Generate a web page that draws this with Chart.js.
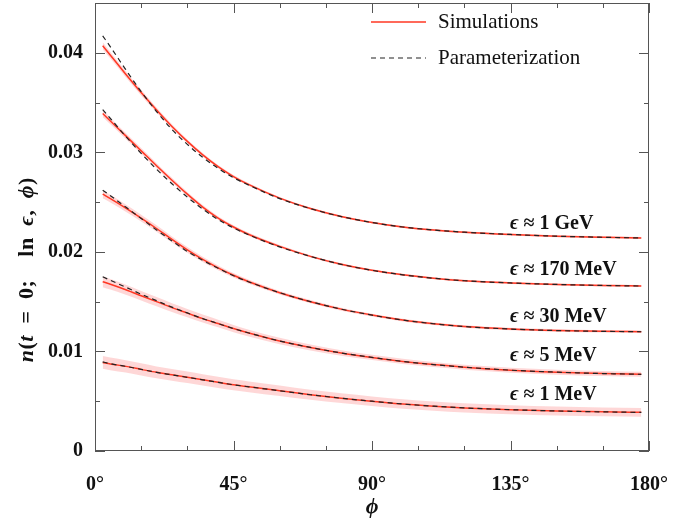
<!DOCTYPE html>
<html>
<head>
<meta charset="utf-8">
<script src="https://cdn.jsdelivr.net/npm/chart.js@4/dist/chart.umd.min.js"></script>
<style>
    body{margin:0;background:#fff;}
    #wrap{width:690px;height:525px;}
</style>
</head>
<body>
<div id="wrap"><canvas id="myChart" width="690" height="525"></canvas></div>
<script>
// angles (degrees) where the curves were read
const phi = [2.5, 5, 10, 15, 20, 25, 30, 35, 40, 45, 50, 60, 70, 80, 90, 100, 110, 120, 135, 150, 165, 177.5];

// simulations (x 1e-3)
const sim1GeV   = [40.7, 39.75, 37.85, 36.0, 34.25, 32.6, 31.1, 29.75, 28.57, 27.57, 26.75, 25.4, 24.35, 23.55, 22.95, 22.5, 22.2, 21.98, 21.75, 21.58, 21.47, 21.4];
const sim170MeV = [33.9, 33.15, 31.65, 30.15, 28.65, 27.2, 25.8, 24.5, 23.4, 22.5, 21.75, 20.55, 19.55, 18.75, 18.15, 17.7, 17.35, 17.1, 16.88, 16.73, 16.63, 16.57];
const sim30MeV  = [25.8, 25.35, 24.4, 23.4, 22.35, 21.25, 20.2, 19.25, 18.4, 17.65, 17.0, 15.9, 15.0, 14.25, 13.65, 13.15, 12.78, 12.5, 12.25, 12.1, 12.02, 11.98];
const sim5MeV   = [17.0, 16.75, 16.2, 15.6, 15.0, 14.4, 13.85, 13.3, 12.8, 12.3, 11.85, 11.05, 10.4, 9.85, 9.4, 9.0, 8.68, 8.42, 8.12, 7.92, 7.78, 7.7];
const sim1MeV   = [8.9, 8.75, 8.5, 8.2, 7.9, 7.65, 7.4, 7.15, 6.9, 6.65, 6.45, 6.05, 5.65, 5.3, 5.0, 4.72, 4.5, 4.33, 4.15, 4.02, 3.93, 3.88];

// simulation uncertainty (half width, x 1e-3)
const err1GeV   = [0.35, 0.33, 0.3, 0.28, 0.25, 0.22, 0.2, 0.18, 0.16, 0.15, 0.14, 0.12, 0.11, 0.1, 0.1, 0.1, 0.1, 0.1, 0.1, 0.1, 0.1, 0.1];
const err170MeV = [0.35, 0.33, 0.3, 0.28, 0.26, 0.24, 0.22, 0.2, 0.18, 0.17, 0.16, 0.14, 0.12, 0.11, 0.1, 0.1, 0.1, 0.1, 0.1, 0.1, 0.1, 0.1];
const err30MeV  = [0.4, 0.38, 0.36, 0.34, 0.32, 0.3, 0.28, 0.26, 0.24, 0.22, 0.2, 0.18, 0.16, 0.15, 0.14, 0.13, 0.13, 0.12, 0.12, 0.12, 0.12, 0.12];
const err5MeV   = [0.55, 0.53, 0.5, 0.48, 0.46, 0.44, 0.42, 0.4, 0.38, 0.36, 0.34, 0.32, 0.3, 0.28, 0.27, 0.26, 0.25, 0.25, 0.25, 0.25, 0.25, 0.25];
const err1MeV   = [0.65, 0.64, 0.62, 0.61, 0.6, 0.59, 0.58, 0.57, 0.56, 0.55, 0.54, 0.52, 0.5, 0.49, 0.48, 0.47, 0.46, 0.46, 0.45, 0.45, 0.45, 0.45];

// parameterization (x 1e-3)
const par1GeV   = [41.7, 40.6, 38.3, 36.1, 34.1, 32.3, 30.8, 29.5, 28.4, 27.45, 26.7, 25.35, 24.35, 23.55, 22.95, 22.5, 22.2, 21.98, 21.75, 21.58, 21.47, 21.4];
const par170MeV = [34.3, 33.4, 31.6, 29.9, 28.3, 26.85, 25.5, 24.3, 23.25, 22.4, 21.7, 20.5, 19.55, 18.75, 18.15, 17.7, 17.35, 17.1, 16.88, 16.73, 16.63, 16.57];
const par30MeV  = [26.2, 25.65, 24.5, 23.35, 22.2, 21.1, 20.05, 19.15, 18.35, 17.6, 16.98, 15.9, 15.0, 14.25, 13.65, 13.15, 12.78, 12.5, 12.25, 12.1, 12.02, 11.98];
const par5MeV   = [17.5, 17.15, 16.45, 15.75, 15.1, 14.45, 13.87, 13.3, 12.8, 12.3, 11.85, 11.05, 10.4, 9.85, 9.4, 9.0, 8.68, 8.42, 8.12, 7.92, 7.78, 7.7];
const par1MeV   = [8.95, 8.77, 8.5, 8.2, 7.9, 7.65, 7.4, 7.15, 6.9, 6.65, 6.45, 6.05, 5.65, 5.3, 5.0, 4.72, 4.5, 4.33, 4.15, 4.02, 3.93, 3.88];

const curveLabels = ["1 GeV", "170 MeV", "30 MeV", "5 MeV", "1 MeV"];
const labelY = [0.02286, 0.01815, 0.01343, 0.00952, 0.00561];
const labelPhi = 134.8;

const xTicks = [0, 45, 90, 135, 180];
const yTicks = [0, 0.01, 0.02, 0.03, 0.04];

const simList = [sim1GeV, sim170MeV, sim30MeV, sim5MeV, sim1MeV];
const errList = [err1GeV, err170MeV, err30MeV, err5MeV, err1MeV];
const parList = [par1GeV, par170MeV, par30MeV, par5MeV, par1MeV];

const red = "rgb(255,55,35)";
const band = "rgba(250,110,110,0.28)";
const serif = "'Liberation Serif', 'DejaVu Serif', serif";

function pts(arr, off, sign) {
    return phi.map(function(p, i){
        let v = arr[i];
        if (off) v += sign * off[i];
        return {x: p, y: v / 1000};
    });
}

let datasets = [];
for (let i = 0; i < 5; i++) {
    datasets.push({data: pts(parList[i]), borderColor: "#222", borderWidth: 1.2, borderDash: [5, 4],
        pointRadius: 0, fill: false, cubicInterpolationMode: "monotone", order: 0});
}
for (let i = 0; i < 5; i++) {
    datasets.push({data: pts(simList[i]), borderColor: red, borderWidth: 1.5,
        pointRadius: 0, fill: false, cubicInterpolationMode: "monotone", order: 1});
}
for (let i = 0; i < 5; i++) {
    datasets.push({data: pts(simList[i], errList[i], -1), borderWidth: 0, borderColor: "transparent",
        pointRadius: 0, fill: false, cubicInterpolationMode: "monotone", order: 2});
    datasets.push({data: pts(simList[i], errList[i], 1), borderWidth: 0, borderColor: "transparent",
        backgroundColor: band, pointRadius: 0, fill: "-1", cubicInterpolationMode: "monotone", order: 2});
}

// draws text pieces, some italic, all bold; gap = extra space after each char
function mixedText(ctx, parts, x, y, size, align, gap) {
    gap = gap || 0;
    let total = 0;
    parts.forEach(function(p){
        ctx.font = (p[1] ? "italic " : "") + "bold " + size + "px " + serif;
        total += ctx.measureText(p[0]).width + gap * p[0].length;
    });
    total -= gap;
    let cx = align === "center" ? x - total / 2 : x;
    ctx.textAlign = "left";
    ctx.textBaseline = "middle";
    parts.forEach(function(p){
        ctx.font = (p[1] ? "italic " : "") + "bold " + size + "px " + serif;
        for (let c of p[0]) {
            ctx.fillText(c, cx, y);
            cx += ctx.measureText(c).width + gap;
        }
    });
}

const decor = {
    id: "decor",
    afterDraw: function(chart) {
        let ctx = chart.ctx;
        let a = chart.chartArea;
        let xs = chart.scales.x, ys = chart.scales.y;
        ctx.save();
        ctx.strokeStyle = "#555";
        ctx.lineWidth = 1;
        ctx.strokeRect(a.left + 0.5, a.top + 0.5, a.right - a.left - 1, a.bottom - a.top - 1);
        ctx.beginPath();
        for (let d = 0; d <= 180; d += 15) {
            let px = Math.round(xs.getPixelForValue(d)) + 0.5;
            let len = d % 45 === 0 ? 10 : 5;
            ctx.moveTo(px, a.bottom); ctx.lineTo(px, a.bottom - len);
            ctx.moveTo(px, a.top); ctx.lineTo(px, a.top + len);
        }
        for (let k = 0; k <= 8; k++) {
            let py = Math.round(ys.getPixelForValue(k * 0.005)) + 0.5;
            let len = k % 2 === 0 ? 10 : 5;
            ctx.moveTo(a.left, py); ctx.lineTo(a.left + len, py);
            ctx.moveTo(a.right, py); ctx.lineTo(a.right - len, py);
        }
        ctx.stroke();

        // legend
        ctx.lineWidth = 1.5;
        ctx.strokeStyle = red;
        ctx.beginPath(); ctx.moveTo(371, 22); ctx.lineTo(426, 22); ctx.stroke();
        ctx.strokeStyle = "#222";
        ctx.lineWidth = 1.2;
        ctx.setLineDash([5, 4]);
        ctx.beginPath(); ctx.moveTo(371, 58); ctx.lineTo(426, 58); ctx.stroke();
        ctx.setLineDash([]);
        ctx.fillStyle = "#111";
        ctx.font = "21px " + serif;
        ctx.textAlign = "left";
        ctx.textBaseline = "middle";
        ctx.fillText("Simulations", 438, 22);
        ctx.fillText("Parameterization", 438, 58);

        // curve labels
        for (let i = 0; i < curveLabels.length; i++) {
            mixedText(ctx, [["\u03f5", true], [" \u2248 " + curveLabels[i], false]],
                xs.getPixelForValue(labelPhi), ys.getPixelForValue(labelY[i]), 20, "left");
        }

        // axis titles
        mixedText(ctx, [["\u03d5", true]], 372, 507, 22, "center");
        ctx.translate(27, 270);
        ctx.rotate(-Math.PI / 2);
        let sp = "\u2002";
        mixedText(ctx, [["n", true], ["(", false], ["t", true], [sp + "=" + sp + "0;" + sp + sp + "ln" + sp, false],
            ["\u03f5", true], ["," + sp, false], ["\u03d5", true], [")", false]], 0, 0, 22, "center", 0.5);
        ctx.restore();
    }
};

new Chart(document.getElementById("myChart"), {
    type: "line",
    data: {datasets: datasets},
    options: {
        responsive: false,
        animation: false,
        devicePixelRatio: 1,
        layout: {padding: {top: 3, right: 41, left: 0, bottom: 0}},
        plugins: {legend: {display: false}, tooltip: {enabled: false}},
        scales: {
            x: {
                type: "linear", min: 0, max: 180,
                grid: {display: false, drawTicks: false},
                border: {display: false},
                afterBuildTicks: function(s){ s.ticks = xTicks.map(function(v){ return {value: v}; }); },
                afterFit: function(s){ s.height = 74; s.paddingLeft = 0; s.paddingRight = 0; },
                ticks: {padding: 22, color: "#111", maxRotation: 0, autoSkip: false,
                    font: {family: serif, size: 20, weight: "bold"},
                    callback: function(v){ return v + "\u00b0"; }}
            },
            y: {
                type: "linear", min: 0, max: 0.045,
                grid: {display: false, drawTicks: false},
                border: {display: false},
                afterBuildTicks: function(s){ s.ticks = yTicks.map(function(v){ return {value: v}; }); },
                afterFit: function(s){ s.width = 95; s.paddingTop = 0; s.paddingBottom = 0; },
                ticks: {padding: 12, color: "#111",
                    font: {family: serif, size: 20, weight: "bold"},
                    callback: function(v){ return v === 0 ? "0" : v.toFixed(2); }}
            }
        }
    },
    plugins: [decor]
});
</script>
</body>
</html>
